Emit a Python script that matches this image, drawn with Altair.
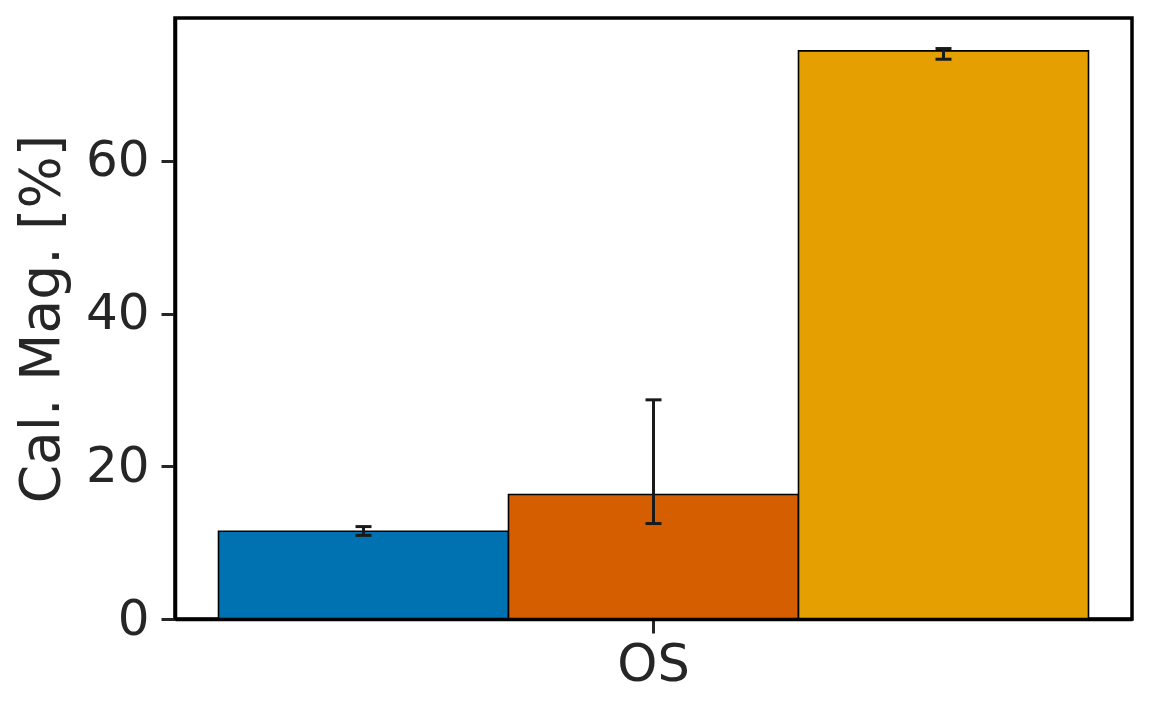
import altair as alt
import pandas as pd

category = ["OS", "OS", "OS"]
groups = ["Group 1", "Group 2", "Group 3"]
values = [11.5, 16.3, 74.4]
err_low = [10.95, 12.5, 73.3]
err_high = [12.1, 28.7, 74.7]
colors = ["#0072B2", "#D55E00", "#E69F00"]
y_ticks = [0, 20, 40, 60]

df = pd.DataFrame({"cat": category, "group": groups, "value": values,
                   "low": err_low, "high": err_high})

font = "DejaVu Sans"
txt = "#262626"

x_enc = alt.X("cat:N", title=None,
              scale=alt.Scale(paddingInner=0, paddingOuter=0.05),
              axis=alt.Axis(labelAngle=0, labelFontSize=51, labelFont=font, labelColor=txt,
                            tickSize=14, tickWidth=3, tickColor=txt, labelPadding=7,
                            domainColor="black", domainWidth=3.5, zindex=2))
xo = alt.XOffset("group:N", sort=groups, scale=alt.Scale(paddingInner=0, paddingOuter=0))
y_scale = alt.Scale(domain=[0, 78.7], nice=False, zero=True)

bars = alt.Chart(df).mark_bar(stroke="black", strokeWidth=1.6).encode(
    x=x_enc,
    xOffset=xo,
    y=alt.Y("value:Q", scale=y_scale, title="Cal. Mag. [%]",
            axis=alt.Axis(values=y_ticks, grid=False, labelFontSize=50, labelFont=font,
                          labelColor=txt, titleFontSize=55, titleFont=font, titleColor=txt,
                          titleFontWeight="normal", tickSize=14, tickWidth=3, tickColor=txt,
                          labelPadding=12, titlePadding=15, domainColor="black",
                          domainWidth=3.5, zindex=2)),
    color=alt.Color("group:N", sort=groups, scale=alt.Scale(domain=groups, range=colors),
                    legend=None),
)

rules = alt.Chart(df).mark_rule(color="#1a1a1a", strokeWidth=3).encode(
    x="cat:N", xOffset=xo,
    y=alt.Y("low:Q", scale=y_scale), y2="high:Q",
)

cap_lo = alt.Chart(df).mark_tick(color="#1a1a1a", size=16, thickness=3, opacity=1).encode(
    x="cat:N", xOffset=xo, y=alt.Y("low:Q", scale=y_scale),
)
cap_hi = alt.Chart(df).mark_tick(color="#1a1a1a", size=16, thickness=3, opacity=1).encode(
    x="cat:N", xOffset=xo, y=alt.Y("high:Q", scale=y_scale),
)

chart = alt.layer(bars, rules, cap_lo, cap_hi).properties(
    width=957, height=601,
    autosize=alt.AutoSizeParams(type="none"),
    padding={"left": 167, "top": 10, "right": 11, "bottom": 80},
).configure(background="white").configure_view(stroke="black", strokeWidth=3.5)

chart.save("out.html", embed_options={"renderer": "svg", "actions": False})
